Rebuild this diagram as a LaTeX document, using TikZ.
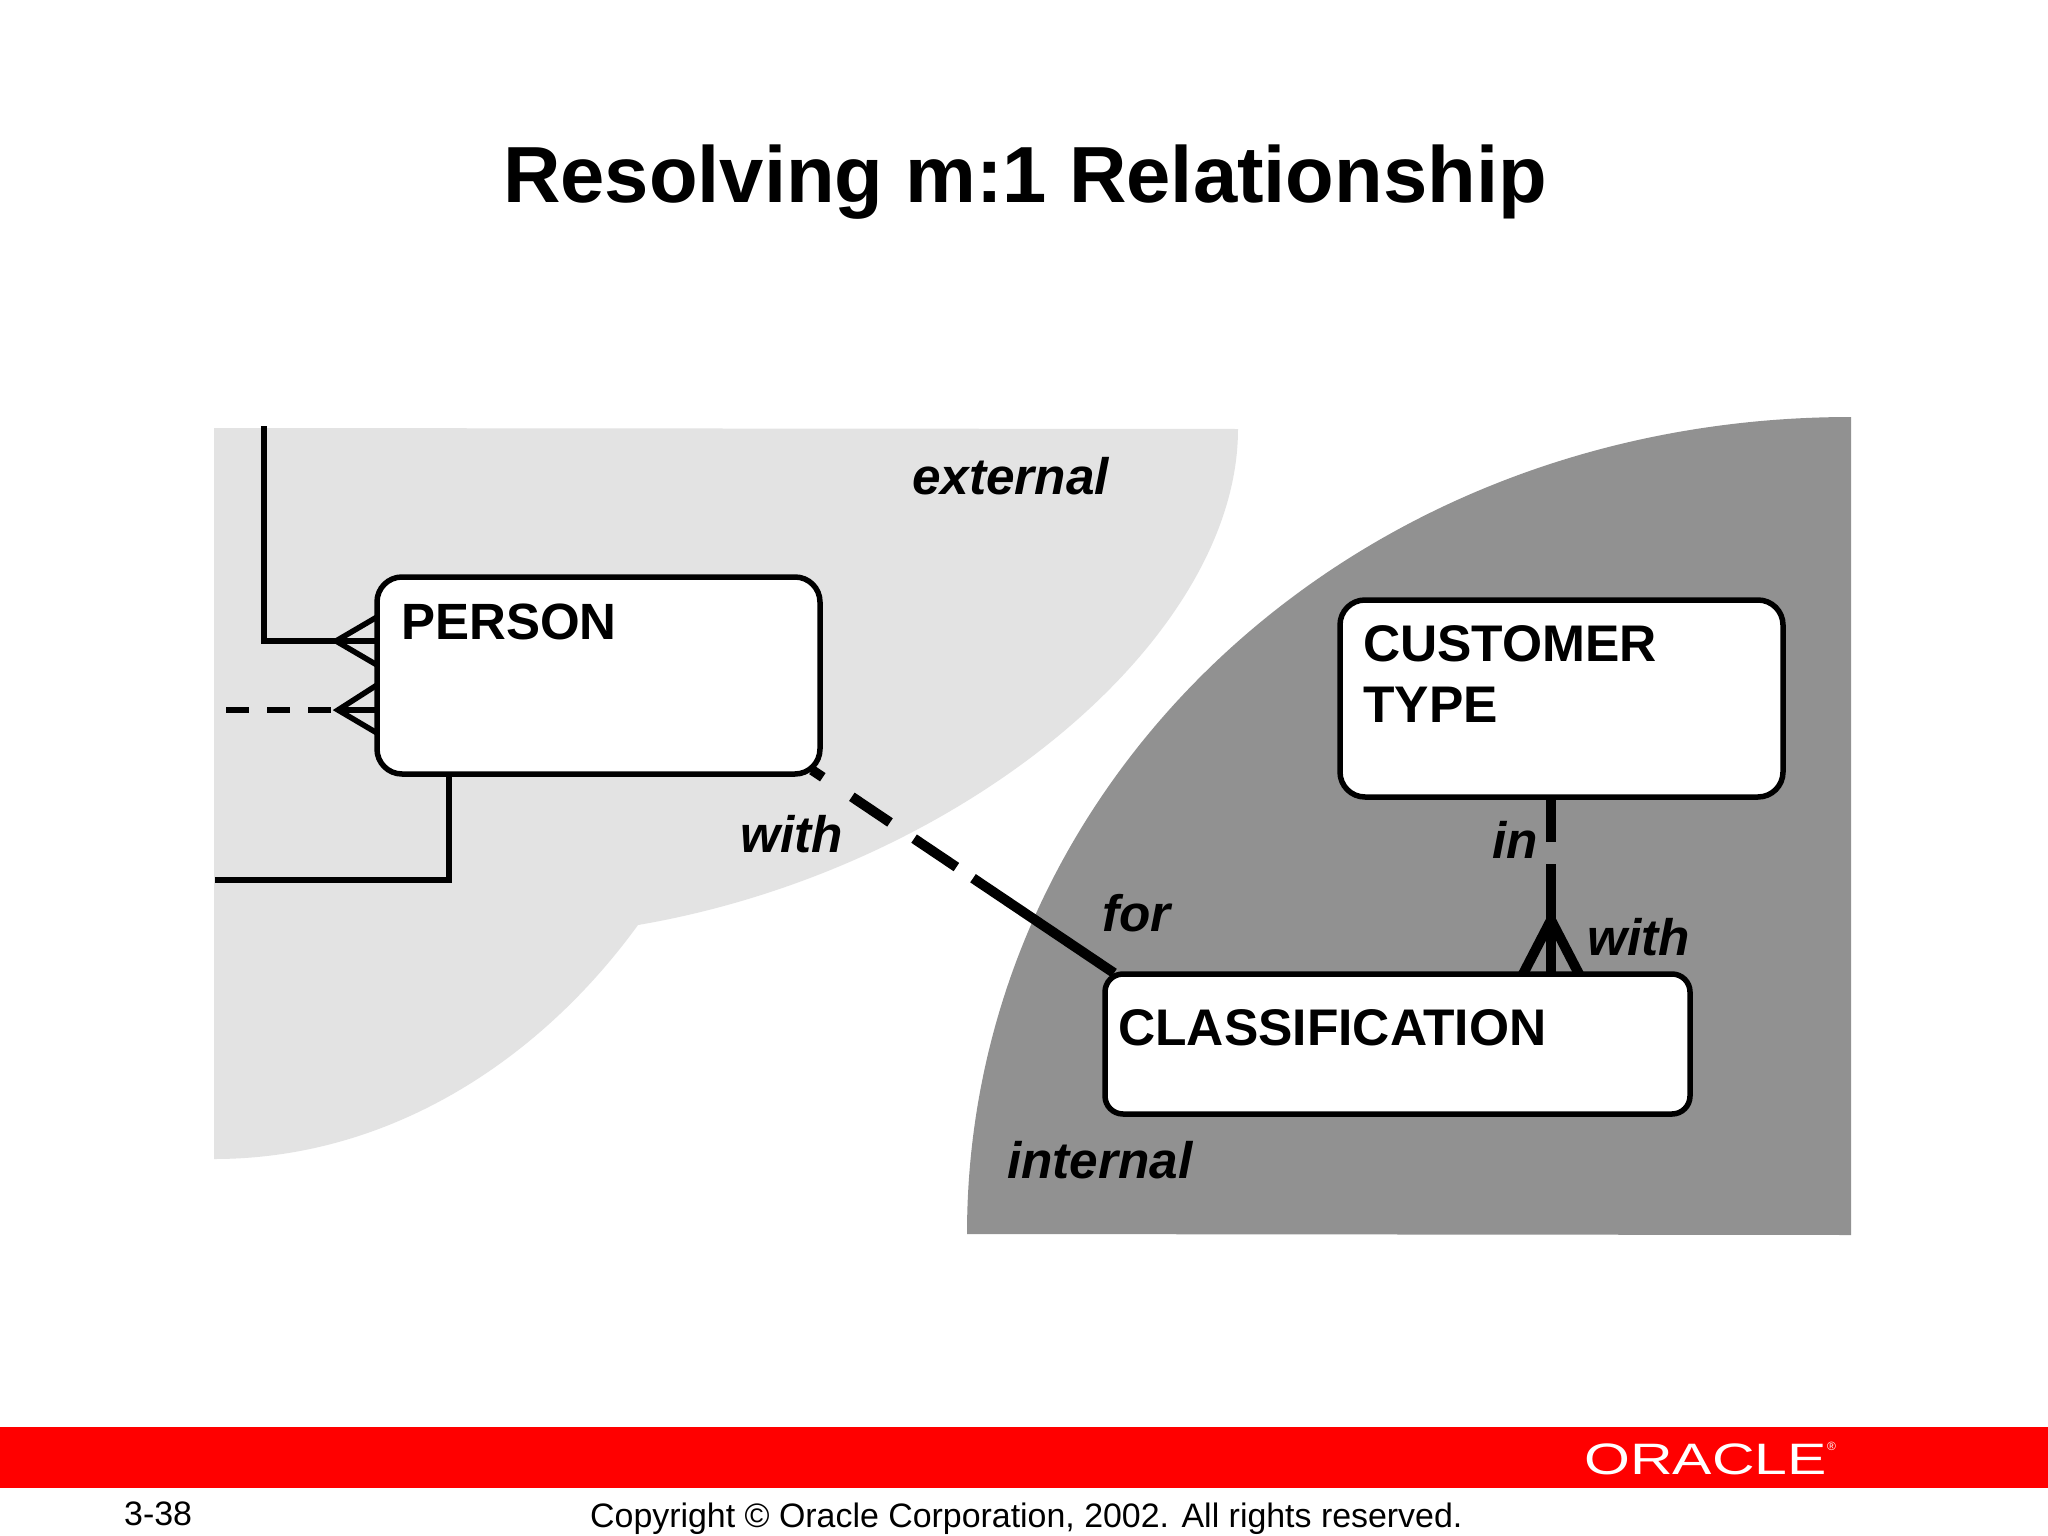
\documentclass[tikz,border=0pt]{standalone}
\usepackage{fontspec}
\setmainfont{Liberation Sans}
\begin{document}
\begin{tikzpicture}[x=1pt,y=-1pt,
  ent/.style={draw=black,fill=white,line width=5.5pt,inner sep=0pt},
  lab/.style={anchor=base west,inner sep=0pt,font=\fontsize{51.5}{60}\selectfont\bfseries},
  rel/.style={anchor=base west,inner sep=0pt,font=\fontsize{51.3}{60}\selectfont\bfseries\itshape},
  thin rel/.style={line width=5.5pt,line join=miter},
  crow/.style={line width=5.5pt},
  heavy/.style={line width=10pt},
  foot/.style={anchor=base west,inner sep=0pt,font=\fontsize{33.9}{40}\selectfont}]
\useasboundingbox[fill=white] (0,0) rectangle (2048,1536);
% shaded regions
\fill[black!11] (214,428) -- (1238,429) .. controls (1238,640) and (960,870) .. (638,925)
   .. controls (540,1060) and (390,1159) .. (214,1159) -- cycle;
\fill[black!43] (967,1234) .. controls (967,784) and (1350,417) .. (1851,417) -- (1851,1235) -- cycle;
% free ends
\coordinate (topend) at (264,426);
\coordinate (corner1) at (264,641);
\coordinate (apex1) at (336,641);
\coordinate (dashend) at (226,710);
\coordinate (apex2) at (338,710);
\coordinate (leftend) at (215,880);
\coordinate (corner2) at (449,880);
\coordinate (b1a) at (377,617);
\coordinate (b1m) at (377,641);
\coordinate (b1b) at (377,665);
\coordinate (b2a) at (377,685);
\coordinate (b2m) at (377,710);
\coordinate (b2b) at (377,733);
\coordinate (psouth) at (449,774);
\coordinate (pcorner) at (812,770);
\coordinate (cnw) at (1114,973);
\coordinate (apex3) at (1551,920);
\coordinate (ctop) at (1551,797);
\coordinate (ca) at (1522,976);
\coordinate (cm) at (1551,976);
\coordinate (cb) at (1580,976);
% connectors
\draw[thin rel] (topend) -- (corner1) -- (apex1);
\draw[crow] (b1a) -- (apex1) -- (b1b);
\draw[crow] (apex1) -- (b1m);
\draw[line width=6pt,dash pattern=on 23pt off 18pt] (dashend) -- (apex2);
\draw[crow] (b2a) -- (apex2) -- (b2b);
\draw[crow] (apex2) -- (b2m);
\draw[thin rel] (psouth) -- (corner2) -- (leftend);
\draw[heavy,dash pattern=on 13pt off 35pt on 46pt off 29pt on 51pt off 20pt on 400pt] (pcorner) -- (cnw);
\draw[heavy,dash pattern=on 45pt off 22pt on 400pt] (ctop) -- (apex3);
\draw[heavy,line join=miter] (ca) -- (apex3) -- (cb);
\draw[heavy] (apex3) -- (cm);
% entities
\node[ent,rounded corners=25pt,minimum width=443pt,minimum height=197pt] (person) at (598.5,675.5) {};
\node[ent,rounded corners=25pt,minimum width=443pt,minimum height=197pt] (customer) at (1561.5,698.5) {};
\node[ent,rounded corners=18pt,minimum width=585pt,minimum height=140pt] (classification) at (1397.5,1044) {};
% entity text
\node[lab,font=\fontsize{51}{60}\selectfont\bfseries] (tperson) at (401,639) {PERSON};
\node[lab] (tcust) at (1363,661) {CUSTOMER};
\node[lab] (ttype) at (1363,722.5) {TYPE};
\node[lab] (tclass) at (1118,1045) {CLASSIFICATION};
% relationship text
\node[rel] (external) at (912,494) {external};
\node[rel] (with1) at (740,852) {with};
\node[rel] (in) at (1492,858) {in};
\node[rel] (for) at (1102,931) {for};
\node[rel] (with2) at (1587,955) {with};
\node[rel] (internal) at (1007,1178) {internal};
% title
\node[anchor=base,inner sep=0pt,font=\fontsize{79.6}{96}\selectfont\bfseries] (title) at (1025,202) {Resolving m:1 Relationship};
% footer
\fill[red] (0,1427) rectangle (2048,1488);
\node[anchor=base west,inner sep=0pt,text=white,font=\fontsize{44}{50}\selectfont,xscale=1.34] (oracle) at (1584,1474) {ORACLE};
\node[anchor=base west,inner sep=0pt,text=white,font=\fontsize{12}{14}\selectfont] (reg) at (1827,1450) {®};
\node[foot] (page) at (124,1525) {3-38};
\node[foot] (copy) at (590,1527) {Copyright © Oracle Corporation, 2002. All rights reserved.};
\end{tikzpicture}
\end{document}
